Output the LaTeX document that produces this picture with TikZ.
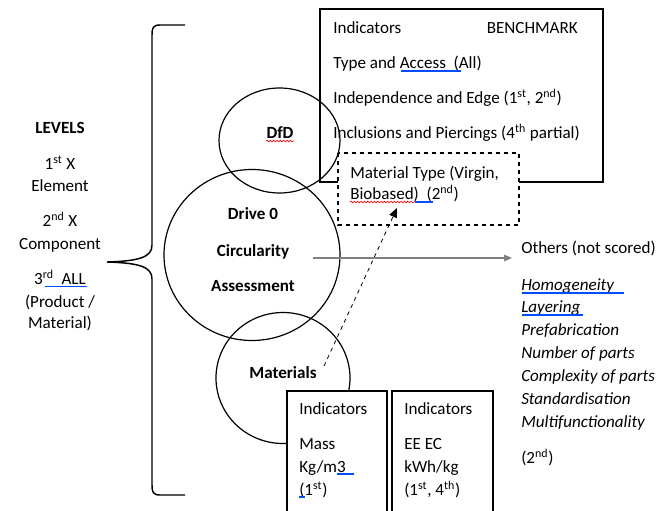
\documentclass[tikz,border=0pt]{standalone}
\usepackage{fontspec}
\setmainfont{Carlito}
\usetikzlibrary{shapes.geometric,arrows.meta,decorations.pathmorphing}
\begin{document}
\begin{tikzpicture}[x=0.75pt,y=-0.75pt,
  txt/.style={inner sep=0pt,anchor=base west,font=\fontsize{12.8}{15}\selectfont},
  ctxt/.style={inner sep=0pt,anchor=base,font=\fontsize{12.8}{15}\selectfont},
  btxt/.style={inner sep=0pt,anchor=base,font=\fontsize{12.8}{15}\selectfont\bfseries},
  itxt/.style={inner sep=0pt,anchor=base west,font=\fontsize{12.8}{15}\selectfont\itshape},
  circ/.style={draw,ellipse,line width=0.9pt,inner sep=0pt},
  box/.style={draw,line width=1pt},
  bline/.style={draw=blue!70!cyan,line width=1pt},
  rline/.style={draw=red,line width=0.5pt,decorate,decoration={snake,amplitude=0.6pt,segment length=2.5pt}}]
\useasboundingbox (0,0) rectangle (662,511);
% brace
\draw[line width=1.1pt] (185,25) -- (160,25) .. controls (153,25) and (152,28) .. (152,35) -- (152,245)
  .. controls (152,257) and (140,261) .. (107,262)
  .. controls (140,263) and (152,267) .. (152,279) -- (152,485)
  .. controls (152,492) and (153,495) .. (160,495) -- (185,495);
% left texts
\node[btxt] (levels) at (60,133) {LEVELS};
\node[ctxt] (l1) at (60,169) {1\textsuperscript{st} X};
\node[ctxt] (l1b) at (60,191) {Element};
\node[ctxt] (l2) at (60,226) {2\textsuperscript{nd} X};
\node[ctxt] (l2b) at (60,249) {Component};
\node[ctxt] (l3) at (60,284) {3\textsuperscript{rd}\ \ ALL};
\node[ctxt] (l3b) at (60,307) {(Product /};
\node[ctxt] (l3c) at (60,328) {Material)};
\draw[bline,line width=0.6pt] (45,286) -- (87,286);
% top box
\draw[box] (320,9) rectangle (603,182);
\node[txt] (ind1) at (333,33) {Indicators};
\node[txt,anchor=base east] (bench) at (578,33) {BENCHMARK};
\node[txt] (t1) at (333,68) {Type and Access\ \ (All)};
\node[txt] (t2) at (333,103) {Independence and Edge (1\textsuperscript{st}, 2\textsuperscript{nd})};
\node[txt] (t3) at (333,138) {Inclusions and Piercings (4\textsuperscript{th} partial)};
\draw[bline] (401,71) -- (461,71);
% circles
\node[circ,minimum width=121pt*0.75,minimum height=105pt*0.75] (dfdc) at (279.5,140.5) {};
\node[circ,minimum width=176pt*0.75,minimum height=171pt*0.75] (drive) at (252,255) {};
\node[circ,minimum width=134pt*0.75,minimum height=131pt*0.75] (matc) at (283,378) {};
\node[btxt] (dfd) at (280,138) {DfD};
\draw[rline] (266,141) -- (294,141);
\node[btxt] (d0) at (253,219) {Drive 0};
\node[btxt] (circ) at (253,256) {Circularity};
\node[btxt] (assess) at (253,291) {Assessment};
\node[btxt] (mat) at (283,378) {Materials};
% dashed box
\filldraw[box,dashed,fill=white,line width=0.9pt] (338,153) rectangle (519,225);
\node[txt] (mt1) at (350,178) {Material Type (Virgin,};
\node[txt] (mt2) at (350,199) {Biobased)\ \ (2\textsuperscript{nd})};
\draw[rline] (350,202) -- (415,202);
\draw[bline] (415,202) -- (433,202);
% dashed arrow
\coordinate (ds) at (324,366);
\coordinate (de) at (397,208);
\draw[dashed,line width=0.6pt,-{Triangle[length=7pt,width=6pt]}] (ds) -- (de);
% gray arrow
\coordinate (gs) at (313,258);
\node[txt] (others) at (521,253) {Others (not scored)};
\draw[gray,line width=0.8pt,-{Triangle[length=6pt,width=5pt]}] (gs) -- (512,258);
% italic list
\node[itxt] (o1) at (521,290) {Homogeneity};
\draw[bline] (522,293) -- (624,293);
\node[itxt] (o2) at (521,312) {Layering};
\draw[bline] (522,315) -- (583,315);
\node[itxt] (o3) at (521,335) {Prefabrication};
\node[itxt] (o4) at (521,358) {Number of parts};
\node[itxt] (o5) at (521,381) {Complexity of parts};
\node[itxt] (o6) at (521,404) {Standardisation};
\node[itxt] (o7) at (521,427) {Multifunctionality};
\node[txt] (o8) at (521,463) {(2\textsuperscript{nd})};
% bottom boxes
\fill[white] (287,391) rectangle (387,511);
\fill[white] (392,391) rectangle (493,511);
\draw[box] (287,511) -- (287,391) -- (387,391) -- (387,511);
\draw[box] (392,511) -- (392,391) -- (493,391) -- (493,511);
\node[txt] (bi1) at (299,414) {Indicators};
\node[txt] (bm1) at (299,449) {Mass};
\node[txt] (bm2) at (299,472) {Kg/m3};
\draw[bline] (337,474) -- (354,474);
\node[txt] (bm3) at (299,495) {(1\textsuperscript{st})};
\draw[bline] (299,497) -- (305,497);
\node[txt] (bi2) at (404,414) {Indicators};
\node[txt] (be1) at (404,449) {EE EC};
\node[txt] (be2) at (404,472) {kWh/kg};
\node[txt] (be3) at (404,495) {(1\textsuperscript{st}, 4\textsuperscript{th})};
\end{tikzpicture}
\end{document}
